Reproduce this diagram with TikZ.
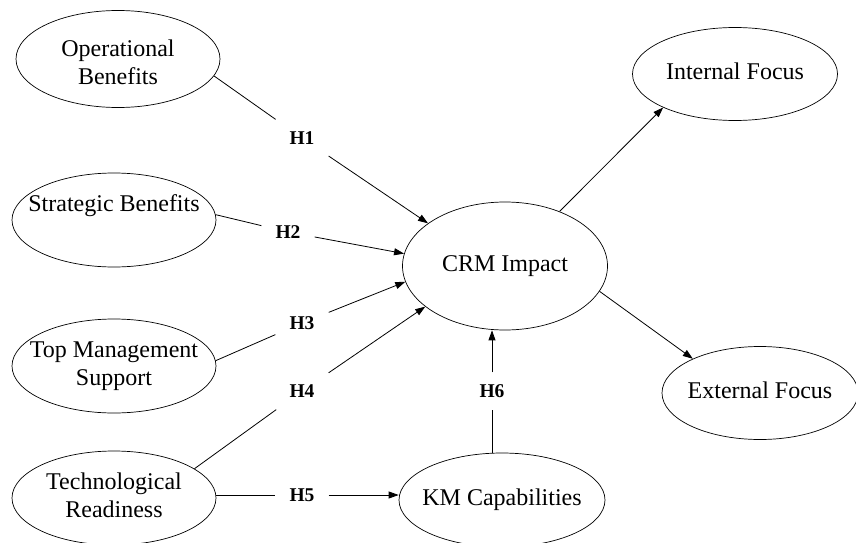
\documentclass[tikz,border=0pt]{standalone}
\usepackage{fontspec}
\setmainfont{Liberation Serif}
\usetikzlibrary{positioning, arrows.meta, shapes.geometric, calc}

% text of a construct, kept out of the ellipse size
\newcommand{\ctext}[1]{\makebox[0pt]{\begin{tabular}{@{}c@{}}#1\end{tabular}}}

\begin{document}
\begin{tikzpicture}[
	x=1pt, y=-1pt,
	construct/.style={ellipse, draw, line width=0.7pt, minimum width=204pt, minimum height=94pt, inner sep=0pt, font=\fontsize{24}{28}\selectfont},
	hyp/.style={font=\fontsize{19.5}{22}\selectfont\bfseries, inner xsep=14pt, inner ysep=12pt},
	link/.style={line width=0.8pt},
	arrow/.style={link, -{Triangle[length=10pt, width=7pt]}}
	]
	\useasboundingbox (0,0) rectangle (856,543);
	
	% --- LEFT: antecedents ---
	\node[construct, minimum height=97pt] (ob) at (118, 59) {\raisebox{-12pt}[0pt][0pt]{\ctext{Operational\\Benefits}}};
	\node[construct] (sb) at (114, 220) {\ctext{Strategic Benefits\\{}}};
	\node[construct] (tms) at (114, 366) {\ctext{Top Management\\Support}};
	\node[construct] (tr) at (114, 498) {\ctext{Technological\\Readiness}};
	
	% --- CENTRE ---
	\node[construct, minimum width=205pt, minimum height=128pt] (crm) at (505, 266) {\ctext{CRM Impact}};
	\node[construct, minimum width=206pt] (km) at (502, 500) {\ctext{KM Capabilities}};
	
	% --- RIGHT: outcomes ---
	\node[construct, minimum width=205pt, minimum height=93pt] (if) at (735, 74) {\ctext{Internal Focus}};
	\node[construct, minimum width=196pt, minimum height=93pt] (ef) at (760, 393) {\ctext{External Focus}};
	
	% --- Hypotheses ---
	\node[hyp] (h1) at (302, 138) {H1};
	\node[hyp] (h2) at (288, 232) {H2};
	\node[hyp] (h3) at (302, 323) {H3};
	\node[hyp] (h4) at (302, 391) {H4};
	\node[hyp] (h5) at (302, 495) {H5};
	\node[hyp] (h6) at (492, 391) {H6};
	
	\draw[link] (ob.-10) -- (h1);
	\draw[arrow] (h1) -- (crm.151);
	
	\draw[link] (sb.3) -- (h2);
	\draw[arrow] (h2) -- (crm.173);
	
	\draw[link] (tms.3) -- (h3);
	\draw[arrow] (h3) -- (crm.189);
	
	\draw[link] (tr.20) -- (h4);
	\draw[arrow] (h4) -- (crm.207);
	
	\draw[link] (tr.east |- h5) -- (h5);
	\draw[arrow] (h5) -- (km.west |- h5);
	
	\draw[link] (h6 |- km.north) -- (h6);
	\draw[arrow] (h6) -- (h6 |- crm.south);
	
	% --- Outcomes ---
	\draw[arrow] (crm.45) -- (if.205);
	\draw[arrow] (crm.-15) -- (ef.153);
	
\end{tikzpicture}
\end{document}
